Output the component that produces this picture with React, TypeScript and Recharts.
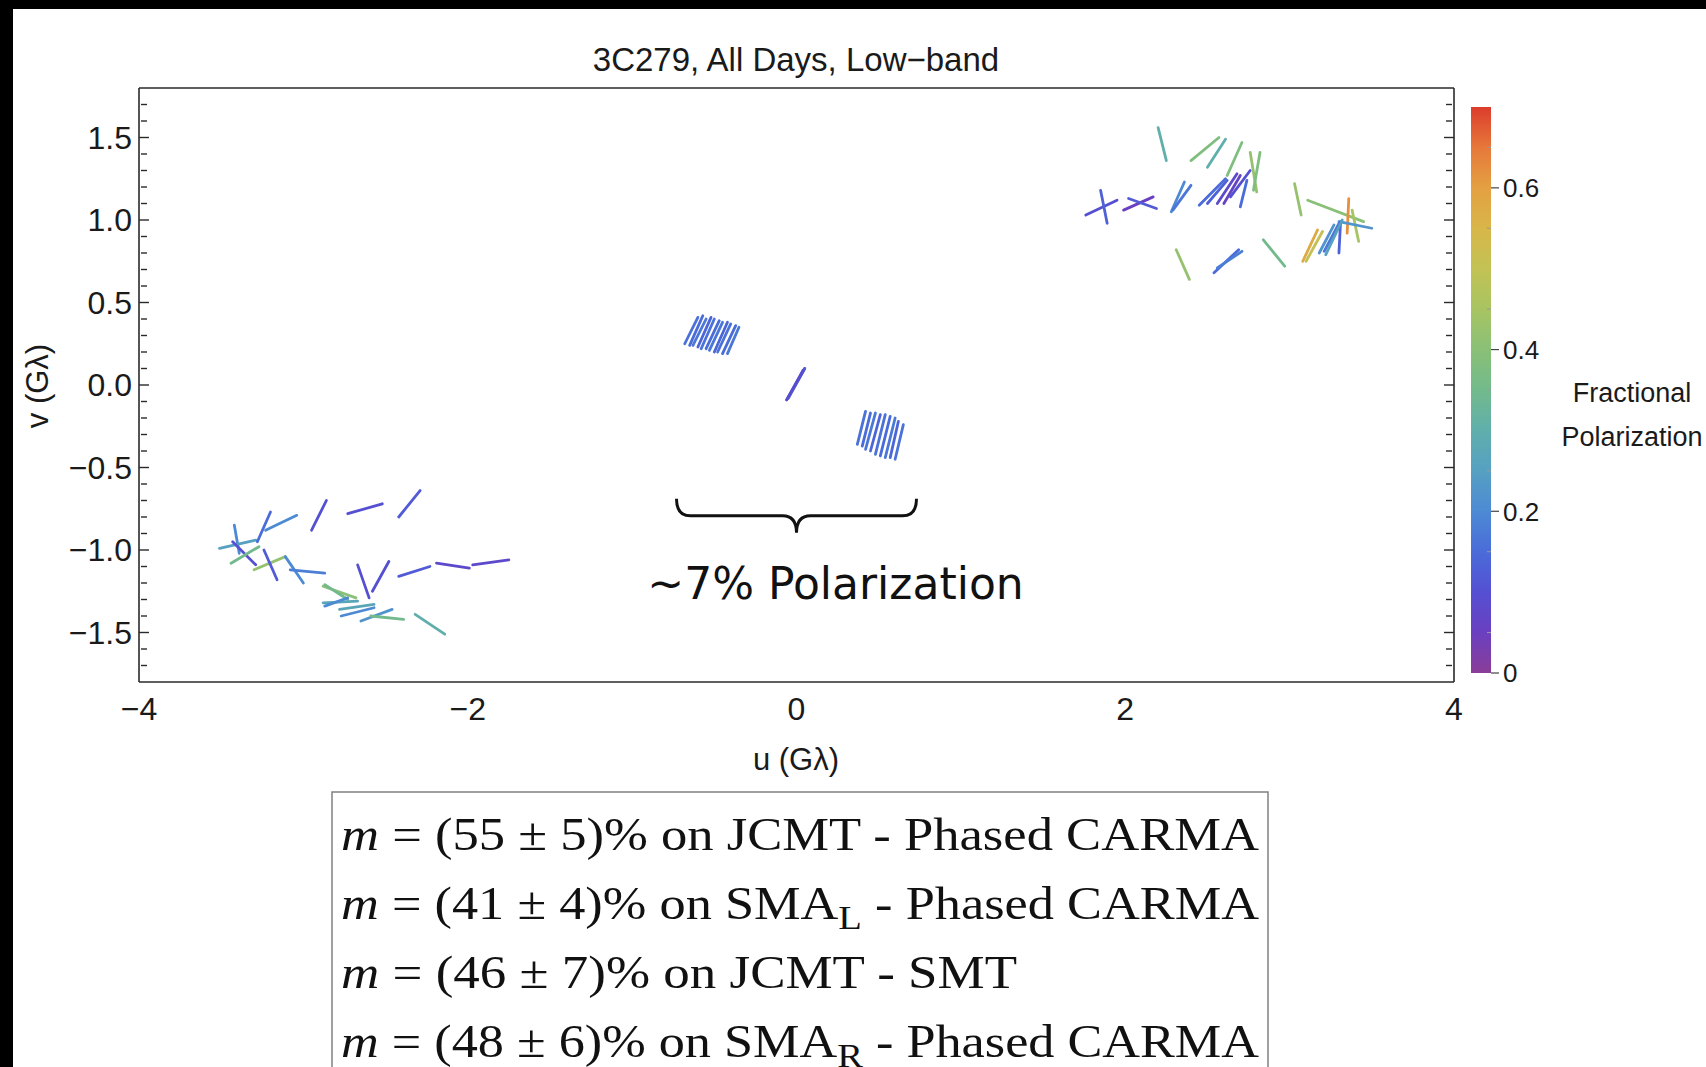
import { ScatterChart, Scatter, XAxis, YAxis, ReferenceLine, BarChart, Bar } from 'recharts'

// one polarization tick = [u1, v1, u2, v2, fractional polarization]
type PolTick = [number, number, number, number, number]

const upperRight: PolTick[] = [
  [1.76, 1.03, 1.95, 1.12, 0.10],
  [1.85, 1.18, 1.89, 0.98, 0.13],
  [1.99, 1.06, 2.17, 1.14, 0.05],
  [2.02, 1.13, 2.19, 1.07, 0.12],
  [2.20, 1.56, 2.25, 1.36, 0.30],
  [2.28, 1.05, 2.36, 1.23, 0.20],
  [2.29, 1.06, 2.40, 1.21, 0.17],
  [2.40, 1.36, 2.57, 1.50, 0.38],
  [2.50, 1.32, 2.61, 1.49, 0.30],
  [2.62, 1.27, 2.71, 1.47, 0.38],
  [2.76, 1.41, 2.80, 1.17, 0.42],
  [2.82, 1.41, 2.78, 1.18, 0.38],
  [2.45, 1.09, 2.61, 1.25, 0.15],
  [2.50, 1.10, 2.62, 1.24, 0.13],
  [2.56, 1.10, 2.68, 1.28, 0.08],
  [2.60, 1.10, 2.70, 1.27, 0.06],
  [2.64, 1.14, 2.76, 1.30, 0.10],
  [2.70, 1.08, 2.74, 1.24, 0.15],
  [3.03, 1.22, 3.07, 1.03, 0.42],
  [3.11, 1.12, 3.45, 0.99, 0.40],
  [3.36, 1.13, 3.35, 0.92, 0.62],
  [3.38, 1.06, 3.42, 0.87, 0.45],
  [3.30, 0.99, 3.50, 0.95, 0.22],
  [3.08, 0.75, 3.17, 0.94, 0.58],
  [3.10, 0.75, 3.20, 0.93, 0.50],
  [3.18, 0.80, 3.27, 0.97, 0.22],
  [3.21, 0.81, 3.30, 0.98, 0.17],
  [3.30, 0.80, 3.31, 0.99, 0.13],
  [3.22, 0.79, 3.32, 1.00, 0.25],
  [2.84, 0.88, 2.97, 0.72, 0.35],
  [2.31, 0.82, 2.39, 0.64, 0.42],
  [2.54, 0.68, 2.69, 0.82, 0.15],
  [2.56, 0.71, 2.71, 0.81, 0.18],
]

const lowerLeft: PolTick[] = [
  [-3.42, -0.85, -3.39, -1.02, 0.20],
  [-3.51, -0.99, -3.29, -0.94, 0.25],
  [-3.43, -0.95, -3.29, -1.09, 0.10],
  [-3.44, -1.08, -3.27, -0.98, 0.35],
  [-3.28, -0.95, -3.20, -0.77, 0.15],
  [-3.23, -0.88, -3.04, -0.79, 0.20],
  [-2.95, -0.88, -2.86, -0.70, 0.10],
  [-2.73, -0.78, -2.52, -0.72, 0.10],
  [-2.42, -0.80, -2.29, -0.64, 0.12],
  [-3.30, -1.12, -3.11, -1.04, 0.42],
  [-3.24, -1.00, -3.16, -1.18, 0.12],
  [-3.11, -1.04, -3.00, -1.20, 0.20],
  [-3.08, -1.12, -2.87, -1.14, 0.18],
  [-2.67, -1.09, -2.60, -1.29, 0.10],
  [-2.58, -1.25, -2.48, -1.07, 0.10],
  [-2.42, -1.16, -2.23, -1.10, 0.12],
  [-2.19, -1.08, -1.99, -1.11, 0.08],
  [-1.97, -1.09, -1.75, -1.06, 0.08],
  [-2.88, -1.22, -2.68, -1.29, 0.40],
  [-2.87, -1.21, -2.73, -1.30, 0.35],
  [-2.88, -1.32, -2.67, -1.31, 0.27],
  [-2.87, -1.34, -2.73, -1.29, 0.20],
  [-2.78, -1.36, -2.57, -1.33, 0.27],
  [-2.77, -1.40, -2.57, -1.35, 0.20],
  [-2.65, -1.43, -2.46, -1.36, 0.22],
  [-2.59, -1.40, -2.39, -1.42, 0.35],
  [-2.32, -1.39, -2.14, -1.51, 0.30],
]

const centerLeft: PolTick[] = [
  [-0.68, 0.25, -0.60, 0.41, 0.16],
  [-0.65, 0.24, -0.57, 0.42, 0.15],
  [-0.63, 0.24, -0.55, 0.40, 0.17],
  [-0.60, 0.23, -0.52, 0.41, 0.14],
  [-0.58, 0.22, -0.50, 0.40, 0.16],
  [-0.55, 0.22, -0.47, 0.39, 0.15],
  [-0.53, 0.21, -0.45, 0.38, 0.17],
  [-0.50, 0.20, -0.42, 0.38, 0.14],
  [-0.48, 0.20, -0.40, 0.37, 0.16],
  [-0.45, 0.19, -0.37, 0.36, 0.15],
  [-0.42, 0.19, -0.35, 0.35, 0.17],
]

const centerMid: PolTick[] = [
  [-0.06, -0.09, 0.05, 0.10, 0.10],
  [-0.05, -0.08, 0.05, 0.10, 0.12],
  [-0.06, -0.09, 0.04, 0.09, 0.09],
]

const centerRight: PolTick[] = [
  [0.37, -0.36, 0.42, -0.16, 0.16],
  [0.40, -0.37, 0.45, -0.17, 0.15],
  [0.42, -0.39, 0.48, -0.17, 0.17],
  [0.45, -0.40, 0.51, -0.18, 0.14],
  [0.48, -0.42, 0.54, -0.18, 0.16],
  [0.51, -0.43, 0.57, -0.19, 0.15],
  [0.54, -0.44, 0.60, -0.20, 0.17],
  [0.57, -0.44, 0.62, -0.22, 0.14],
  [0.60, -0.45, 0.65, -0.24, 0.16],
]

const allTicks = [...upperRight, ...lowerLeft, ...centerLeft, ...centerMid, ...centerRight]

const xMajor = [-4, -2, 0, 2, 4]
const xMinor = [-3.5, -3, -2.5, -1.5, -1, -0.5, 0.5, 1, 1.5, 2.5, 3, 3.5]
const yMajor = [-1.5, -1, -0.5, 0, 0.5, 1, 1.5]
const yMinor = [
  -1.7, -1.6, -1.4, -1.3, -1.2, -1.1, -0.9, -0.8, -0.7, -0.6, -0.4, -0.3, -0.2, -0.1,
  0.1, 0.2, 0.3, 0.4, 0.6, 0.7, 0.8, 0.9, 1.1, 1.2, 1.3, 1.4, 1.6, 1.7,
]
const cbarTicks = [0, 0.2, 0.4, 0.6]
const cbarMinor = [0.05, 0.15, 0.25, 0.35, 0.45, 0.55, 0.65]
const cbarData = [{ name: 'm', top: 0.7 }]

const boxLines = [
  { value: '(55 ± 5)% on JCMT - Phased CARMA', sub: '' },
  { value: '(41 ± 4)% on SMA', sub: 'L' },
  { value: '(46 ± 7)% on JCMT - SMT', sub: '' },
  { value: '(48 ± 6)% on SMA', sub: 'R' },
]

const X_DOMAIN: [number, number] = [-4, 4]
const Y_DOMAIN: [number, number] = [-1.8, 1.8]
const M_MAX = 0.7
const SANS = '"Liberation Sans", Arial, sans-serif'
const SERIF = '"Liberation Serif", "Times New Roman", serif'
const FRAME = '#2a2a2a'

// Mathematica-like "Rainbow" colour scheme, keyed on fractional polarization
const RAINBOW: Array<[number, string]> = [
  [0, '#8a3d98'], [0.05, '#6a40c0'], [0.1, '#5550d2'], [0.15, '#4a6cd9'], [0.2, '#4d8ad4'],
  [0.25, '#56a0c2'], [0.3, '#60afac'], [0.35, '#72ba8c'], [0.4, '#8ac077'], [0.45, '#a8c462'],
  [0.5, '#c2c254'], [0.55, '#d8b64a'], [0.6, '#e4a042'], [0.65, '#e6783a'], [0.7, '#dc3c2c'],
]

const hex = (c: string) => [1, 3, 5].map((i) => parseInt(c.slice(i, i + 2), 16))

function colorFor(m: number) {
  const v = Math.max(0, Math.min(M_MAX, m))
  for (let i = 1; i < RAINBOW.length; i++) {
    const [m0, c0] = RAINBOW[i - 1]
    const [m1, c1] = RAINBOW[i]
    if (v <= m1) {
      const t = (v - m0) / (m1 - m0)
      const a = hex(c0)
      const b = hex(c1)
      return `rgb(${a.map((x, k) => Math.round(x + (b[k] - x) * t)).join(',')})`
    }
  }
  return RAINBOW[RAINBOW.length - 1][1]
}

const fmtX = (v: number) => (v < 0 ? `\u2212${Math.abs(v)}` : `${v}`)
const fmtY = (v: number) => (v < 0 ? `\u2212${Math.abs(v).toFixed(1)}` : v.toFixed(1))

const noPoint = () => <g />
// tick marks only: the label itself is left empty
const noLabel = () => <g />

// curly brace under the central baselines, drawn between the segment ends
const Brace = (p: any) => {
  const { x1, y1, x2 } = p
  const xc = (x1 + x2) / 2
  const d = 17
  const r = 14
  const path = `M${x1},${y1} Q${x1},${y1 + d} ${x1 + r},${y1 + d} L${xc - r},${y1 + d} Q${xc},${y1 + d} ${xc},${y1 + 2 * d} Q${xc},${y1 + d} ${xc + r},${y1 + d} L${x2 - r},${y1 + d} Q${x2},${y1 + d} ${x2},${y1}`
  return (
    <g>
      <path d={path} fill="none" stroke="#111" strokeWidth={3} />
      <text x={xc + 39} y={y1 + 100} textAnchor="middle" fontSize={44} fontFamily='"DejaVu Sans", sans-serif' fill="#111">
        ~7% Polarization
      </text>
    </g>
  )
}

const frameLine = { stroke: FRAME, strokeWidth: 1.6 }
const tickStroke = { stroke: FRAME, strokeWidth: 1.4 }

export default function App() {
  return (
    <div style={{ position: 'absolute', left: 0, top: 0, width: 1706, height: 1067, background: '#fff', overflow: 'hidden' }}>
      <div style={{ position: 'absolute', left: 0, top: 0, width: 1706, height: 9, background: '#000' }} />
      <div style={{ position: 'absolute', left: 0, top: 0, width: 13, height: 1067, background: '#000' }} />

      <div style={{ position: 'absolute', left: 0, top: 0 }}>
        <ScatterChart width={1706} height={760} margin={{ top: 88, right: 252, bottom: 28, left: 0 }}>
          <XAxis
            xAxisId="x" type="number" dataKey="u" domain={X_DOMAIN} allowDataOverflow ticks={xMajor} interval={0}
            tickLine={false} axisLine={false} tickSize={0} tickMargin={15} height={50} tickFormatter={fmtX}
            tick={{ fontSize: 32, fill: '#1a1a1a', fontFamily: SANS }}
          />
          <YAxis
            yAxisId="y" type="number" dataKey="v" domain={Y_DOMAIN} allowDataOverflow ticks={yMajor} interval={0}
            tickLine={false} axisLine={false} tickSize={0} tickMargin={7} width={139} tickFormatter={fmtY}
            tick={{ fontSize: 32, fill: '#1a1a1a', fontFamily: SANS }}
          />
          {/* frame with inward ticks on all four sides */}
          <XAxis xAxisId="bMaj" type="number" orientation="bottom" mirror domain={X_DOMAIN} allowDataOverflow ticks={xMajor} interval={0} tick={noLabel} tickSize={10} height={2} axisLine={frameLine} tickLine={tickStroke} />
          <XAxis xAxisId="bMin" type="number" orientation="bottom" mirror domain={X_DOMAIN} allowDataOverflow ticks={xMinor} interval={0} tick={noLabel} tickSize={6} height={2} axisLine={false} tickLine={tickStroke} />
          <XAxis xAxisId="tMaj" type="number" orientation="top" mirror domain={X_DOMAIN} allowDataOverflow ticks={xMajor} interval={0} tick={noLabel} tickSize={10} height={2} axisLine={frameLine} tickLine={tickStroke} />
          <XAxis xAxisId="tMin" type="number" orientation="top" mirror domain={X_DOMAIN} allowDataOverflow ticks={xMinor} interval={0} tick={noLabel} tickSize={6} height={2} axisLine={false} tickLine={tickStroke} />
          <YAxis yAxisId="lMaj" type="number" orientation="left" mirror domain={Y_DOMAIN} allowDataOverflow ticks={yMajor} interval={0} tick={noLabel} tickSize={10} width={2} axisLine={frameLine} tickLine={tickStroke} />
          <YAxis yAxisId="lMin" type="number" orientation="left" mirror domain={Y_DOMAIN} allowDataOverflow ticks={yMinor} interval={0} tick={noLabel} tickSize={6} width={2} axisLine={false} tickLine={tickStroke} />
          <YAxis yAxisId="rMaj" type="number" orientation="right" mirror domain={Y_DOMAIN} allowDataOverflow ticks={yMajor} interval={0} tick={noLabel} tickSize={10} width={2} axisLine={frameLine} tickLine={tickStroke} />
          <YAxis yAxisId="rMin" type="number" orientation="right" mirror domain={Y_DOMAIN} allowDataOverflow ticks={yMinor} interval={0} tick={noLabel} tickSize={6} width={2} axisLine={false} tickLine={tickStroke} />

          {allTicks.map((t, i) => (
            <Scatter
              key={`pol-${i}`}
              xAxisId="x"
              yAxisId="y"
              data={[{ u: t[0], v: t[1] }, { u: t[2], v: t[3] }]}
              line={{ stroke: colorFor(t[4]), strokeWidth: 2.8, strokeLinecap: 'round' }}
              shape={noPoint}
              legendType="none"
              isAnimationActive={false}
            />
          ))}

          <ReferenceLine
            xAxisId="x"
            yAxisId="y"
            segment={[{ x: -0.73, y: -0.69 }, { x: 0.73, y: -0.69 }]}
            shape={Brace}
            ifOverflow="visible"
          />
        </ScatterChart>
      </div>

      {/* colour bar */}
      <div style={{ position: 'absolute', left: 1471, top: 87 }}>
        <BarChart width={130} height={606} data={cbarData} margin={{ top: 20, right: 0, bottom: 20, left: 0 }} barCategoryGap={0}>
          <defs>
            <linearGradient id="cbarGrad" x1="0" y1="1" x2="0" y2="0">
              {RAINBOW.map(([m, c]) => (
                <stop key={m} offset={m / M_MAX} stopColor={c} />
              ))}
            </linearGradient>
          </defs>
          <XAxis dataKey="name" hide />
          <YAxis
            orientation="right" type="number" domain={[0, M_MAX]} allowDataOverflow ticks={cbarTicks} interval={0}
            width={110} axisLine={false} tickSize={8} tickMargin={4} tickLine={{ stroke: '#444', strokeWidth: 1.2 }}
            tick={{ fontSize: 26, fill: '#1a1a1a', fontFamily: SANS }}
          />
          <YAxis
            yAxisId="cm" orientation="right" mirror type="number" domain={[0, M_MAX]} allowDataOverflow ticks={cbarMinor} interval={0}
            width={2} axisLine={false} tick={noLabel} tickSize={4} tickLine={{ stroke: '#999', strokeWidth: 1 }}
          />
          <Bar dataKey="top" fill="url(#cbarGrad)" isAnimationActive={false} legendType="none" />
        </BarChart>
      </div>

      <svg width={1706} height={1067} style={{ position: 'absolute', left: 0, top: 0, pointerEvents: 'none' }}>
        <text x={796} y={71} textAnchor="middle" fontSize={33} fontFamily={SANS} fill="#1a1a1a">
          3C279, All Days, Low{'\u2212'}band
        </text>
        <text x={796} y={770} textAnchor="middle" fontSize={31} fontFamily={SANS} fill="#1a1a1a">
          u (Gλ)
        </text>
        <text x={48} y={386} textAnchor="middle" fontSize={31} fontFamily={SANS} fill="#1a1a1a" transform="rotate(-90 48 386)">
          v (Gλ)
        </text>
        <text x={1632} y={402} textAnchor="middle" fontSize={27} fontFamily={SANS} fill="#1a1a1a">
          Fractional
        </text>
        <text x={1632} y={446} textAnchor="middle" fontSize={27} fontFamily={SANS} fill="#1a1a1a">
          Polarization
        </text>

        <rect x={332} y={792} width={936} height={320} fill="none" stroke="#808080" strokeWidth={1.5} />
        {boxLines.map((ln, i) => (
          <text
            key={ln.value}
            x={341}
            y={850 + i * 69}
            fontSize={46}
            fontFamily={SERIF}
            fill="#111"
            textLength={ln.value.includes('SMT') ? 676 : 918}
            lengthAdjust="spacingAndGlyphs"
          >
            <tspan fontStyle="italic">m</tspan>
            {' = '}
            {ln.value}
            {ln.sub && (
              <tspan fontSize={34} dy={10}>
                {ln.sub}
              </tspan>
            )}
            {ln.sub && <tspan dy={-10}>{' - Phased CARMA'}</tspan>}
          </text>
        ))}
      </svg>
    </div>
  )
}
